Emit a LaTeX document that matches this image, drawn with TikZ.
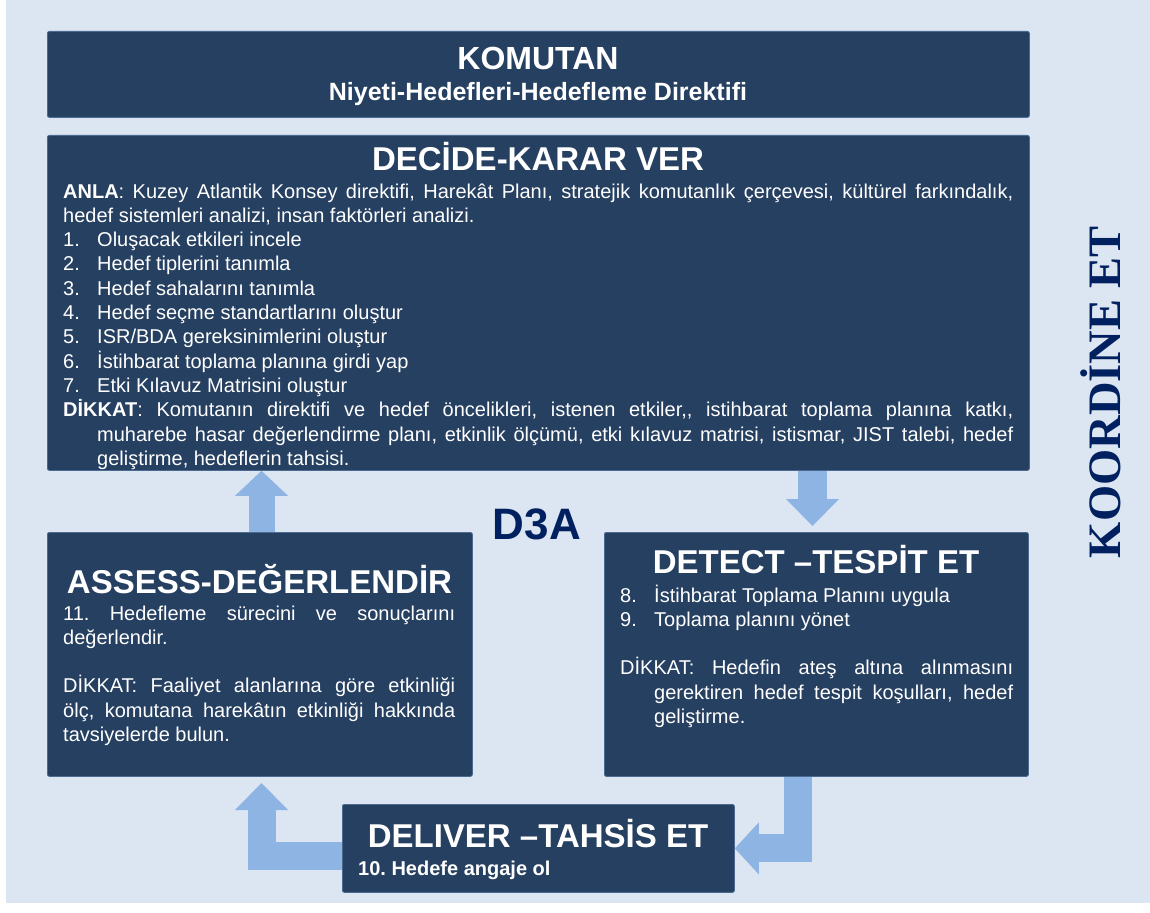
\documentclass[tikz,border=0pt]{standalone}
\usepackage{fontspec}
\setmainfont{Liberation Sans}
\newfontfamily\koordfont{Liberation Serif}
\usetikzlibrary{arrows.meta,calc}
\definecolor{navy}{HTML}{264061}
\definecolor{navyedge}{HTML}{4A6A92}
\definecolor{bgblue}{HTML}{DCE6F2}
\definecolor{arrowblue}{HTML}{8EB4E3}
\definecolor{darktext}{HTML}{002060}
\frenchspacing
\begin{document}
\begin{tikzpicture}[x=1pt,y=-1pt,
  box/.style={draw=navyedge, line width=0.8pt, fill=navy, rounded corners=2pt, inner sep=0pt, anchor=north west},
  ttl/.style={text=white, font=\fontsize{33}{40}\selectfont\bfseries, anchor=base, inner sep=0pt},
  body/.style={text=white, font=\fontsize{20}{24.3}\selectfont\frenchspacing, anchor=base west, inner sep=0pt},
  blk/.style={draw=arrowblue, line join=miter, line cap=butt},
]
\useasboundingbox (0,0) rectangle (1150,912);
\fill[white] (0,0) rectangle (1150,912);
\fill[bgblue] (6,0) rectangle (1150,903);

% boxes
\node[box, minimum width=982pt, minimum height=86pt] (komutan) at (47,31) {};
\node[box, minimum width=982pt, minimum height=335pt] (decide) at (47,135) {};
\node[box, minimum width=425pt, minimum height=244pt] (assess) at (47,532) {};
\node[box, minimum width=424pt, minimum height=244pt] (detect) at (604,532) {};
\node[box, minimum width=392pt, minimum height=88pt] (deliver) at (342,804) {};

% helper coordinates
\coordinate (ux) at (261.5,0);
\coordinate (dx) at (812.5,0);
\coordinate (bx) at (798,0);
\coordinate (lx) at (261.5,783);

% arrows
\draw[blk, line width=26pt, -{Triangle[length=25pt,width=53pt,line width=0pt]}]
  (assess.north -| ux) -- (decide.south -| ux);
\draw[blk, line width=29pt, -{Triangle[length=27pt,width=53pt,line width=0pt]}]
  (decide.south -| dx) -- ($(detect.north -| dx)+(0,-6)$);
\draw[blk, line width=28pt, -{Triangle[length=24pt,width=52pt,line width=0pt]}]
  (detect.south -| bx) |- (deliver.east);
\draw[blk, line width=28pt, -{Triangle[length=27pt,width=53pt,line width=0pt]}]
  ($(deliver.south west)+(0,-37)$) -| (lx);

% KOMUTAN
\node[anchor=base, inner sep=0pt, text=white, font=\fontsize{32}{38}\selectfont\bfseries] (kt) at (538,70) {KOMUTAN};
\node[anchor=base, inner sep=0pt, text=white, font=\fontsize{25}{30}\selectfont\bfseries] (ks) at (538,101) {Niyeti-Hedefleri-Hedefleme Direktifi};

% DECIDE
\node[ttl] (dt) at (538,171) {DECİDE-KARAR VER};
\node[body] (db) at (63,198) {\begin{minipage}[t]{950pt}%
\makebox[950pt][s]{\textbf{ANLA}: Kuzey Atlantik Konsey direktifi, Harekât Planı, stratejik komutanlık çerçevesi, kültürel farkındalık,}\\
hedef sistemleri analizi, insan faktörleri analizi.\\
\makebox[34pt][l]{1.}Oluşacak etkileri incele\\
\makebox[34pt][l]{2.}Hedef tiplerini tanımla\\
\makebox[34pt][l]{3.}Hedef sahalarını tanımla\\
\makebox[34pt][l]{4.}Hedef seçme standartlarını oluştur\\
\makebox[34pt][l]{5.}ISR/BDA gereksinimlerini oluştur\\
\makebox[34pt][l]{6.}İstihbarat toplama planına girdi yap\\
\makebox[34pt][l]{7.}Etki Kılavuz Matrisini oluştur\\
\makebox[950pt][s]{\textbf{DİKKAT}: Komutanın direktifi ve hedef öncelikleri, istenen etkiler,{},{} istihbarat toplama planına katkı,}\\
\hspace*{34pt}\makebox[916pt][s]{muharebe hasar değerlendirme planı, etkinlik ölçümü, etki kılavuz matrisi, istismar, JIST talebi, hedef}\\
\hspace*{34pt}geliştirme, hedeflerin tahsisi.%
\end{minipage}};

% D3A
\node[anchor=base, inner sep=0pt, text=darktext, font=\fontsize{44}{50}\selectfont\bfseries] (d3a) at (537,539) {D3A};

% ASSESS
\node[ttl] (at) at (259.5,593) {ASSESS-DEĞERLENDİR};
\node[body] (ab) at (63,620) {\begin{minipage}[t]{392pt}%
\makebox[392pt][s]{11. Hedefleme sürecini ve sonuçlarını}\\
değerlendir.\\
\mbox{}\\
\makebox[392pt][s]{DİKKAT: Faaliyet alanlarına göre etkinliği}\\
\makebox[392pt][s]{ölç, komutana harekâtın etkinliği hakkında}\\
tavsiyelerde bulun.%
\end{minipage}};

% DETECT
\node[ttl] (tt) at (816,573) {DETECT –TESPİT ET};
\node[body] (tb) at (620,602) {\begin{minipage}[t]{393pt}%
\makebox[34pt][l]{8.}İstihbarat Toplama Planını uygula\\
\makebox[34pt][l]{9.}Toplama planını yönet\\
\mbox{}\\
\makebox[393pt][s]{DİKKAT: Hedefin ateş altına alınmasını}\\
\hspace*{34pt}\makebox[359pt][s]{gerektiren hedef tespit koşulları, hedef}\\
\hspace*{34pt}geliştirme.%
\end{minipage}};

% DELIVER
\node[ttl] (lt) at (538,847) {DELIVER –TAHSİS ET};
\node[anchor=base west, inner sep=0pt, text=white, font=\fontsize{20}{24}\selectfont\bfseries\frenchspacing] (lb) at (358,875) {10. Hedefe angaje ol};

% KOORDINE ET
\node[rotate=90, anchor=base, inner sep=0pt, text=darktext, font=\koordfont\fontsize{46.5}{52}\selectfont\bfseries] (koord) at (1120,392) {KOORDİNE ET};
\end{tikzpicture}
\end{document}
